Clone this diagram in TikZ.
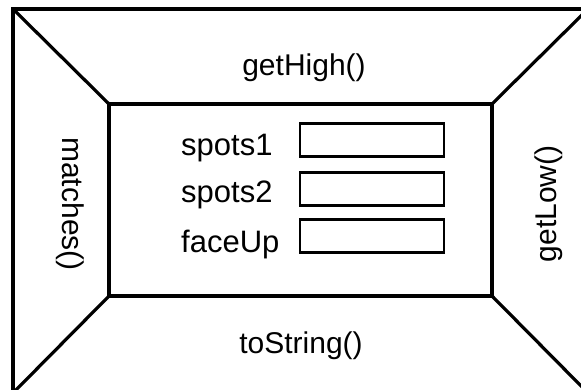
\documentclass[tikz,border=0pt]{standalone}
\usepackage{fontspec}
\setmainfont{Liberation Sans}
\begin{document}
\begin{tikzpicture}[x=1pt,y=-1pt,
  frame/.style={line width=3.2pt, line join=miter},
  field/.style={draw, line width=2.2pt, minimum width=144pt, minimum height=33pt, inner sep=0pt},
  lbl/.style={font=\fontsize{30}{33}\selectfont, inner sep=0pt},
  flbl/.style={font=\fontsize{31}{34}\selectfont, inner sep=0pt, anchor=west}]
\useasboundingbox (0,0) rectangle (581,390);
\begin{scope}
\clip (0,0) rectangle (581,390);
\coordinate (O1) at (13,9);
\coordinate (O2) at (588,9);
\coordinate (O3) at (588,393);
\coordinate (O4) at (13,393);
\coordinate (I1) at (109,104);
\coordinate (I2) at (492,104);
\coordinate (I3) at (492,296);
\coordinate (I4) at (109,296);
\draw[frame] (O1) -- (O2) -- (O3) -- (O4) -- cycle;
\draw[frame] (I1) -- (I2) -- (I3) -- (I4) -- cycle;
\draw[frame] (O1) -- (I1);
\draw[frame] (O2) -- (I2);
\draw[frame] (O3) -- (I3);
\draw[frame] (O4) -- (I4);
\end{scope}
\node[lbl] (high) at (304,68) {getHigh()};
\node[lbl] (str) at (301,346) {toString()};
\node[lbl, rotate=-90] (match) at (70,204) {matches()};
\node[lbl, rotate=90] (low) at (549,204) {getLow()};
\node[field] (b1) at (372,140) {};
\node[field] (b2) at (372,189) {};
\node[field] (b3) at (372,236) {};
\node[flbl] (l1) at (181,148) {spots1};
\node[flbl] (l2) at (181,195) {spots2};
\node[flbl] (l3) at (181,244) {faceUp};
\end{tikzpicture}
\end{document}
